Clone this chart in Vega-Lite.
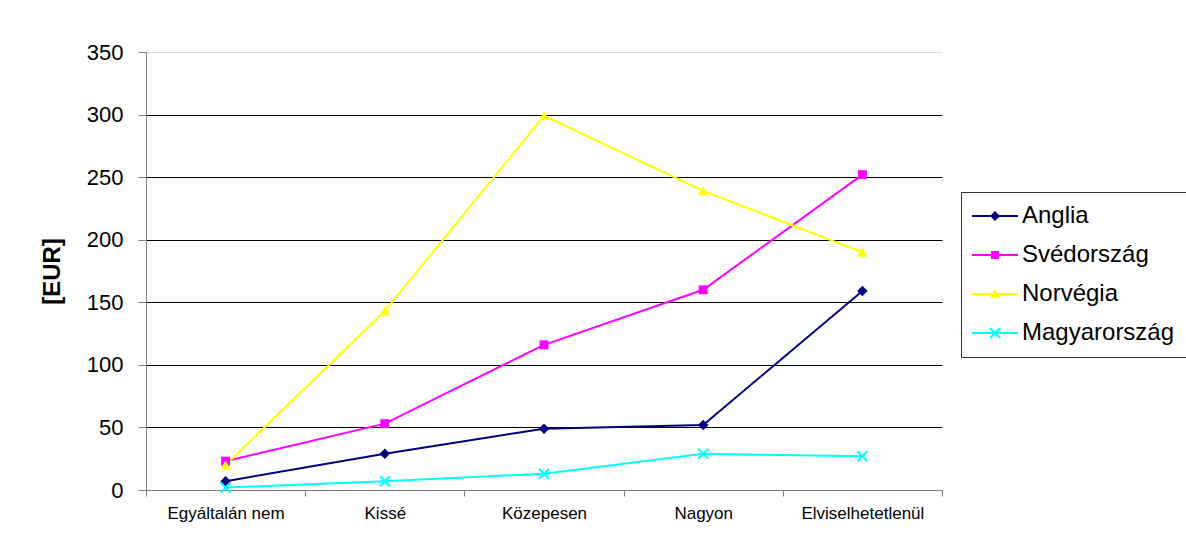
{
  "$schema": "https://vega.github.io/schema/vega-lite/v6.json",
  "width": 796,
  "height": 438,
  "autosize": {"type": "none"},
  "padding": {"left": 146, "top": 52, "right": 244, "bottom": 54},
  "background": "white",
  "config": {
    "view": {"stroke": null},
    "font": "Liberation Sans",
    "legend": {
      "symbolSize": 100,
      "symbolStrokeWidth": 0,
      "symbolOpacity": 1
    }
  },
  "data": {
    "values": [
      {"kat": "Egyáltalán nem", "orszag": "Anglia", "eur": 7},
      {"kat": "Kissé", "orszag": "Anglia", "eur": 29},
      {"kat": "Közepesen", "orszag": "Anglia", "eur": 49},
      {"kat": "Nagyon", "orszag": "Anglia", "eur": 52},
      {"kat": "Elviselhetetlenül", "orszag": "Anglia", "eur": 159},
      {"kat": "Egyáltalán nem", "orszag": "Svédország", "eur": 23},
      {"kat": "Kissé", "orszag": "Svédország", "eur": 53},
      {"kat": "Közepesen", "orszag": "Svédország", "eur": 116},
      {"kat": "Nagyon", "orszag": "Svédország", "eur": 160},
      {"kat": "Elviselhetetlenül", "orszag": "Svédország", "eur": 252},
      {"kat": "Egyáltalán nem", "orszag": "Norvégia", "eur": 20},
      {"kat": "Kissé", "orszag": "Norvégia", "eur": 143},
      {"kat": "Közepesen", "orszag": "Norvégia", "eur": 299},
      {"kat": "Nagyon", "orszag": "Norvégia", "eur": 239},
      {"kat": "Elviselhetetlenül", "orszag": "Norvégia", "eur": 190},
      {"kat": "Egyáltalán nem", "orszag": "Magyarország", "eur": 2},
      {"kat": "Kissé", "orszag": "Magyarország", "eur": 7},
      {"kat": "Közepesen", "orszag": "Magyarország", "eur": 13},
      {"kat": "Nagyon", "orszag": "Magyarország", "eur": 29},
      {"kat": "Elviselhetetlenül", "orszag": "Magyarország", "eur": 27}
    ]
  },
  "encoding": {
    "x": {
      "field": "kat",
      "type": "nominal",
      "sort": ["Egyáltalán nem", "Kissé", "Közepesen", "Nagyon", "Elviselhetetlenül"],
      "scale": {"type": "band", "paddingInner": 0, "paddingOuter": 0},
      "axis": {
        "title": null,
        "labelAngle": 0,
        "labelFont": "Liberation Sans",
        "labelFontSize": 17,
        "labelColor": "#000000",
        "labelPadding": 9,
        "tickBand": "extent",
        "tickSize": 6,
        "tickColor": "#808080",
        "domainColor": "#808080",
        "grid": false
      }
    },
    "y": {
      "field": "eur",
      "type": "quantitative",
      "scale": {"domain": [0, 350], "nice": false},
      "axis": {
        "title": "[EUR]",
        "titleFont": "Liberation Sans",
        "titleFontSize": 24,
        "titleFontWeight": "bold",
        "titleColor": "#000000",
        "titlePadding": 22,
        "values": [0, 50, 100, 150, 200, 250, 300, 350],
        "labelFont": "Liberation Sans",
        "labelFontSize": 22,
        "labelColor": "#000000",
        "labelPadding": 15,
        "tickSize": 8,
        "tickColor": "#808080",
        "domainColor": "#808080",
        "grid": true,
        "gridColor": {"condition": {"test": "datum.value === 350", "value": "#d9d9d9"}, "value": "#000000"},
        "gridWidth": 1
      }
    },
    "color": {
      "field": "orszag",
      "type": "nominal",
      "scale": {
        "domain": ["Anglia", "Svédország", "Norvégia", "Magyarország"],
        "range": ["#000080", "#FF00FF", "#FFFF00", "#00FFFF"]
      },
      "legend": {
        "title": null,
        "orient": "none",
        "legendX": 815,
        "legendY": 140,
        "strokeColor": "#333333",
        "fillColor": "#ffffff",
        "padding": 12,
        "labelFont": "Liberation Sans",
        "labelFontSize": 24,
        "labelColor": "#000000",
        "labelOffset": 15,
        "symbolOffset": 10,
        "symbolSize": 100,
        "symbolStrokeWidth": 0,
        "rowPadding": 15
      }
    }
  },
  "layer": [
    {
      "mark": {"type": "line", "strokeWidth": 2},
      "encoding": {
        "order": {"value": null}
      }
    },
    {
      "transform": [{"filter": "datum.orszag === 'Anglia'"}],
      "mark": {"type": "point", "filled": true, "size": 110, "opacity": 1, "shape": "diamond"}
    },
    {
      "transform": [{"filter": "datum.orszag === 'Svédország'"}],
      "mark": {"type": "point", "filled": true, "size": 80, "opacity": 1, "shape": "square"}
    },
    {
      "transform": [{"filter": "datum.orszag === 'Norvégia'"}],
      "mark": {"type": "point", "filled": true, "size": 110, "opacity": 1, "shape": "triangle-up"}
    },
    {
      "transform": [{"filter": "datum.orszag === 'Magyarország'"}],
      "mark": {"type": "point", "filled": true, "size": 100, "opacity": 1, "shape": "M-0.85,-1.15L1.15,0.85L0.85,1.15L-1.15,-0.85ZM1.15,-0.85L-0.85,1.15L-1.15,0.85L0.85,-1.15Z"}
    },
    {
      "transform": [{"filter": "datum.eur < 0"}],
      "mark": {"type": "point", "filled": true, "size": 100},
      "encoding": {
        "shape": {
          "field": "orszag",
          "type": "nominal",
          "scale": {
            "domain": ["Anglia", "Svédország", "Norvégia", "Magyarország"],
            "range": [
              "M-4.6,-0.2H4.6V0.2H-4.6ZM0,-1L1,0L0,1L-1,0Z",
              "M-4.6,-0.2H4.6V0.2H-4.6ZM-0.8,-0.8H0.8V0.8H-0.8Z",
              "M-4.6,-0.2H4.6V0.2H-4.6ZM0,-1L1,0.8H-1Z",
              "M-4.6,-0.2H4.6V0.2H-4.6ZM-0.85,-1.15L1.15,0.85L0.85,1.15L-1.15,-0.85ZM1.15,-0.85L-0.85,1.15L-1.15,0.85L0.85,-1.15Z"
            ]
          },
          "legend": {
            "title": null,
            "orient": "none",
            "legendX": 815,
            "legendY": 140,
            "strokeColor": "#333333",
            "fillColor": "#ffffff",
            "padding": 12,
            "labelFont": "Liberation Sans",
            "labelFontSize": 24,
            "labelColor": "#000000",
            "labelOffset": 15,
            "symbolOffset": 10,
            "symbolSize": 100,
            "symbolStrokeWidth": 0,
            "rowPadding": 15
          }
        }
      }
    }
  ]
}
